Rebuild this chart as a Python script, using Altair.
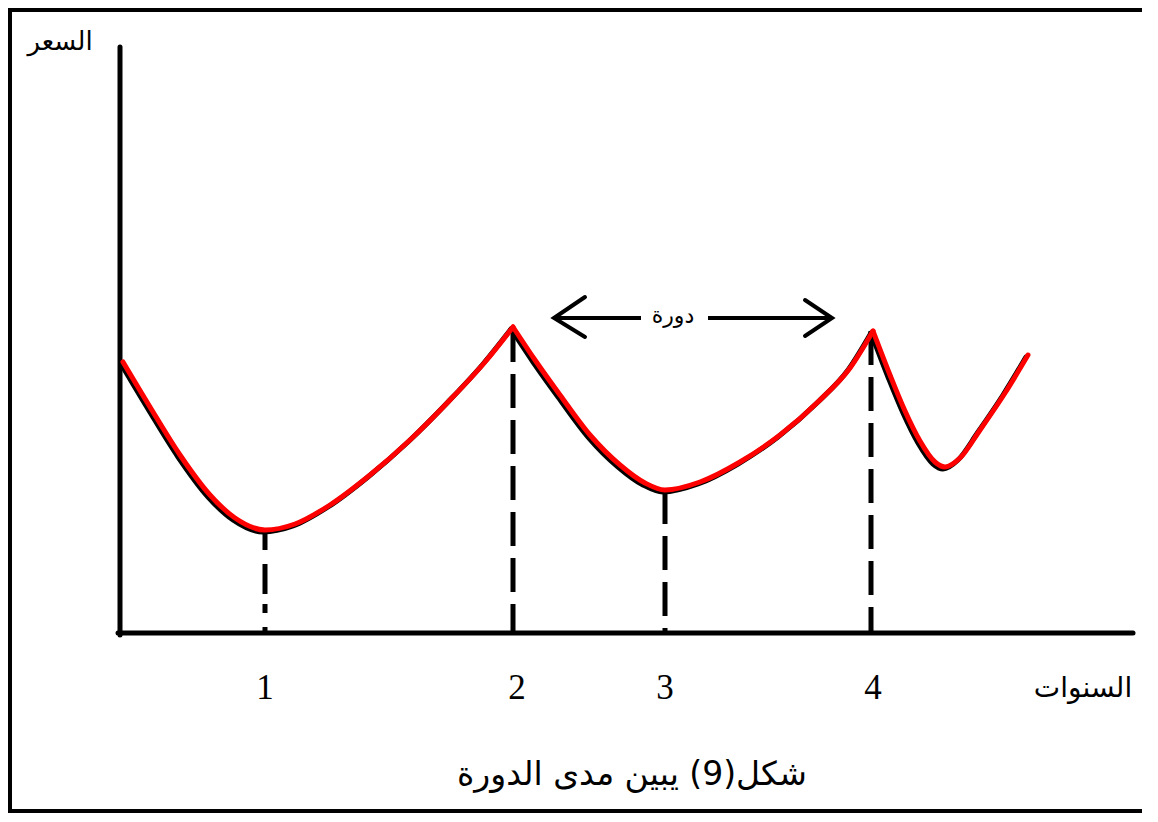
import altair as alt
import pandas as pd

# Coordinate system: origin at the axis corner; x = position along the years axis, y = price
X_DOMAIN = [-112, 1030]
Y_DOMAIN = [-181, 625]

# Price curve, split at the sharp peaks (segments)
seg_a_x = [3, 30, 60, 90, 115, 145, 175, 210, 250, 290, 330, 365, 393]
seg_a_y = [271, 226, 178, 138, 115, 103, 109, 128, 158, 193, 233, 271, 306]
seg_b_x = [393, 415, 440, 470, 500, 525, 545, 580, 620, 660, 700, 730, 753]
seg_b_y = [306, 273, 238, 198, 168, 150, 143, 151, 171, 198, 233, 265, 302]
seg_c_x = [753, 770, 785, 800, 815, 825, 840, 860, 885, 908]
seg_c_y = [302, 258, 222, 192, 171, 166, 175, 203, 240, 278]

# Cycle points (years) and their vertical dashed guides
year_labels = ["1", "2", "3", "4"]
year_x = [145, 393, 545, 751]
year_top = [103, 305, 143, 302]
label_x = [145, 397, 545, 753]

# Texts
y_title = "السعر"
x_title = "السنوات"
cycle_label = "دورة"
caption = "شكل(9) يبين مدى الدورة"

FONT_AR = "DejaVu Sans"
FONT_NUM = "Liberation Serif"

xs = alt.Scale(domain=X_DOMAIN, nice=False, zero=False)
ys = alt.Scale(domain=Y_DOMAIN, nice=False, zero=False)


def X(f="x"):
    return alt.X(f"{f}:Q", scale=xs, axis=None)


def Y(f="y"):
    return alt.Y(f"{f}:Q", scale=ys, axis=None)


curve_rows = []
for seg, (sx, sy) in enumerate([(seg_a_x, seg_a_y), (seg_b_x, seg_b_y), (seg_c_x, seg_c_y)]):
    for i, (a, b) in enumerate(zip(sx, sy)):
        curve_rows.append({"seg": seg, "i": i, "x": a, "y": b})
curve_df = pd.DataFrame(curve_rows)

# Frame: top, left and bottom edges (no right edge)
frame_df = pd.DataFrame({"x": [1022, -110, -110, 1022], "y": [623, 623, -178, -178], "i": [0, 1, 2, 3]})
frame = alt.Chart(frame_df).mark_line(color="black", strokeWidth=4, strokeJoin="miter").encode(
    x=X(), y=Y(), order="i:Q")

# Axes
axes_df = pd.DataFrame({"x": [0, -2], "y": [-2, 0], "x2": [0, 1013], "y2": [586, 0]})
axes = alt.Chart(axes_df).mark_rule(color="black", strokeWidth=5, strokeCap="round").encode(
    x=X(), y=Y(), x2="x2:Q", y2="y2:Q")

guides_df = pd.DataFrame({"x": year_x, "top": year_top, "bottom": [0, 0, 0, 0], "label": year_labels,
                          "lx": label_x, "ly": [-55, -55, -55, -55]})
guide_1 = alt.Chart(guides_df[guides_df.label == "1"]).mark_rule(
    color="black", strokeWidth=5, strokeDash=[20, 14, 30, 10, 9, 14]).encode(
    x=X(), y=Y("top"), y2="bottom:Q")
guide_rest = alt.Chart(guides_df[guides_df.label != "1"]).mark_rule(
    color="black", strokeWidth=5, strokeDash=[34, 12]).encode(
    x=X(), y=Y("top"), y2="bottom:Q")

year_text = alt.Chart(guides_df).mark_text(font=FONT_NUM, fontSize=35, color="black", baseline="middle").encode(
    x=X("lx"), y=Y("ly"), text="label:N")

curve_black = alt.Chart(curve_df).transform_calculate(
    xb="datum.x - 2", yb="datum.y - 2").mark_line(
    color="black", strokeWidth=5, interpolate="monotone", strokeCap="round").encode(
    x=X("xb"), y=Y("yb"), detail="seg:N", order="i:Q")
curve_red = alt.Chart(curve_df).mark_line(
    color="#ff0000", strokeWidth=5, interpolate="monotone", strokeCap="round").encode(
    x=X(), y=Y(), detail="seg:N", order="i:Q")

# Cycle arrow
arrow_df = pd.DataFrame({
    "x": [465, 434, 465, 685, 712, 685],
    "y": [296, 315, 336, 297, 315, 333],
    "g": ["hl", "hl", "hl", "hr", "hr", "hr"],
    "i": [0, 1, 2, 0, 1, 2],
})
shaft_df = pd.DataFrame({"x": [435, 588], "x2": [521, 710], "y": [315, 315]})
shaft = alt.Chart(shaft_df).mark_rule(color="black", strokeWidth=4).encode(
    x=X(), x2="x2:Q", y=Y())
heads = alt.Chart(arrow_df).mark_line(
    color="black", strokeWidth=4, strokeCap="round", strokeJoin="miter").encode(
    x=X(), y=Y(), detail="g:N", order="i:Q")

texts_df = pd.DataFrame({
    "x": [-60, 963, 553, 512],
    "y": [591, -56, 317, -142],
    "t": [y_title, x_title, cycle_label, caption],
    "s": [26, 28, 22, 33],
})
texts = alt.Chart(texts_df).mark_text(font=FONT_AR, color="black", baseline="middle").encode(
    x=X(), y=Y(), text="t:N", size=alt.Size("s:Q", scale=None, legend=None))

chart = alt.layer(
    frame, guide_1, guide_rest, axes, curve_black, curve_red, shaft, heads, year_text, texts
).properties(
    width=1142, height=806, autosize=alt.AutoSizeParams(type="none"), padding=0,
    background="white"
).configure_view(strokeWidth=0)

chart.save("out.html", embed_options={"renderer": "svg", "actions": False})
